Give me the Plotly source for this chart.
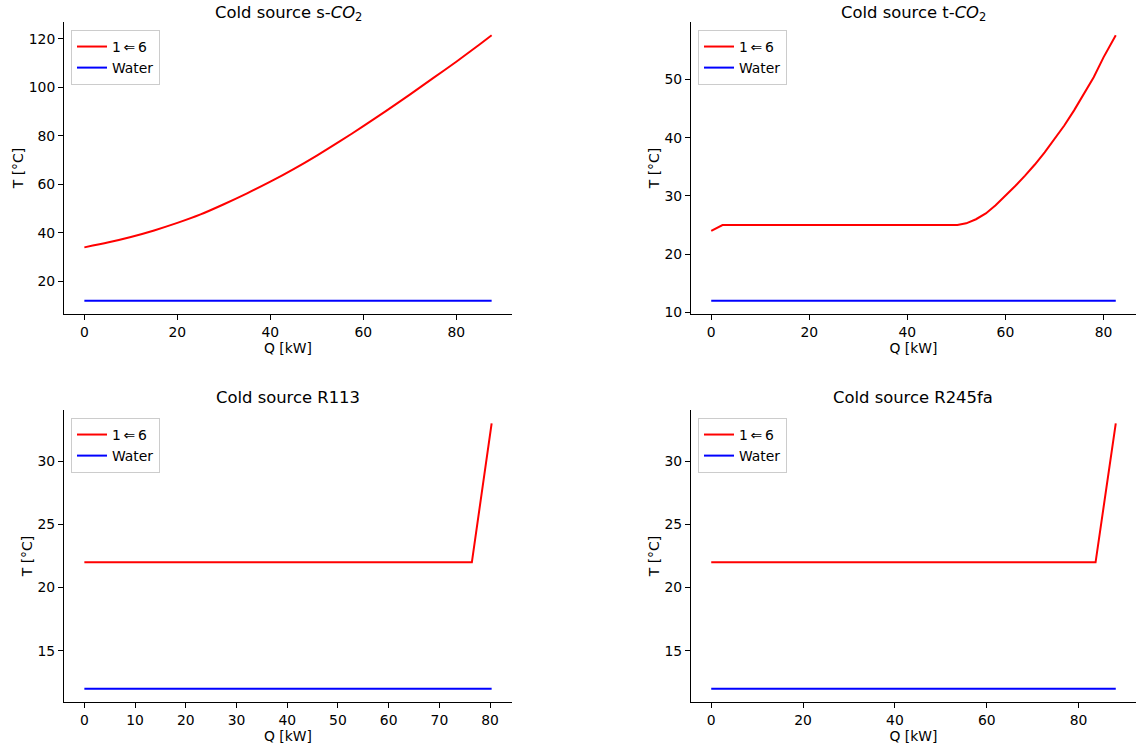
import plotly.graph_objects as go

# ---- data -------------------------------------------------------------
# s-CO2 cold source
q_sco2 = [0, 5, 10, 15, 20, 25, 30, 35, 40, 45, 50, 55, 60, 65, 70, 75, 80, 85, 87.6]
t_sco2 = [34.0, 36.0, 38.3, 41.0, 44.1, 47.6, 51.8, 56.3, 61.1, 66.3, 71.9, 77.8,
          84.0, 90.4, 97.0, 103.8, 110.6, 117.7, 121.5]
q_sco2_w = [0, 87.6]
t_sco2_w = [12, 12]

# t-CO2 cold source
q_tco2 = [0, 2.3, 50.2, 52, 54, 56, 58, 60, 62, 64, 66, 68, 70, 72, 74, 76, 78, 80, 82.5]
t_tco2 = [24.0, 25.0, 25.0, 25.3, 26.0, 27.0, 28.4, 30.0, 31.7, 33.5, 35.4, 37.5,
          39.7, 42.1, 44.7, 47.5, 50.4, 53.8, 57.6]
q_tco2_w = [0, 82.5]
t_tco2_w = [12, 12]

# R113 cold source
q_r113 = [0, 76.4, 80.3]
t_r113 = [22, 22, 33]
q_r113_w = [0, 80.3]
t_r113_w = [12, 12]

# R245fa cold source
q_r245 = [0, 83.7, 88.1]
t_r245 = [22, 22, 33]
q_r245_w = [0, 88.1]
t_r245_w = [12, 12]

titles = ["Cold source s-<i>CO</i><sub>2</sub>", "Cold source t-<i>CO</i><sub>2</sub>",
          "Cold source R113", "Cold source R245fa"]
name_hot = "1\u2009⇐\u20096"
name_water = "Water"

# ---- layout geometry (pixels) ----------------------------------------
W, H = 1137, 749
FONT = "DejaVu Sans"
panels = [
    # (x0, x1, ytop, ybottom) in pixels
    (64, 512, 22, 314),
    (691, 1136, 22, 314),
    (64, 512, 410, 702),
    (691, 1136, 410, 702),
]
series = [
    (q_sco2, t_sco2, q_sco2_w, t_sco2_w, 20, 20, "spline"),
    (q_tco2, t_tco2, q_tco2_w, t_tco2_w, 20, 10, "linear"),
    (q_r113, t_r113, q_r113_w, t_r113_w, 10, 5, "linear"),
    (q_r245, t_r245, q_r245_w, t_r245_w, 20, 5, "linear"),
]
title_shift = [-4, -4, 1, 1]


def padded(lo, hi, frac=0.05):
    span = hi - lo
    return [lo - frac * span, hi + frac * span]


fig = go.Figure()
layout = dict(
    width=W, height=H,
    margin=dict(l=0, r=0, t=0, b=0),
    paper_bgcolor="white", plot_bgcolor="white",
    font=dict(family=FONT, size=13.9, color="black"),
    showlegend=True,
)
annotations = []

for i, ((x0, x1, yt, yb), (qh, th, qw, tw, dx, dy, shape)) in enumerate(zip(panels, series)):
    k = "" if i == 0 else str(i + 1)
    leg = "legend" if i == 0 else f"legend{i + 1}"
    fig.add_trace(go.Scatter(x=qh, y=th, mode="lines", name=name_hot,
                             line=dict(color="red", width=2, shape=shape, smoothing=0.6),
                             xaxis="x" + k, yaxis="y" + k, legend=leg))
    fig.add_trace(go.Scatter(x=qw, y=tw, mode="lines", name=name_water,
                             line=dict(color="blue", width=2),
                             xaxis="x" + k, yaxis="y" + k, legend=leg))

    xs = qh + qw
    ys = th + tw
    axis_common = dict(
        showgrid=False, zeroline=False, showline=True, linecolor="black",
        linewidth=1, mirror=False, ticks="outside", ticklen=5, tickwidth=1,
        tickcolor="black", automargin=False,
        tickfont=dict(family=FONT, size=13.9, color="black"),
    )
    layout["xaxis" + k] = dict(
        axis_common,
        domain=[x0 / W, x1 / W],
        range=padded(min(xs), max(xs)),
        dtick=dx, tick0=0,
        anchor="y" + k,
        title=dict(text="Q [kW]", standoff=3, font=dict(size=13.9)),
    )
    layout["yaxis" + k] = dict(
        axis_common,
        domain=[1 - yb / H, 1 - yt / H],
        range=padded(min(ys), max(ys)),
        dtick=dy, tick0=0,
        anchor="x" + k,
        title=dict(text="T [°C]", standoff=1, font=dict(size=13.9)),
    )
    layout[leg] = dict(
        x=(x0 + 7) / W, y=1 - (yt + 8) / H, xanchor="left", yanchor="top",
        bgcolor="rgba(255,255,255,0.8)", bordercolor="#cccccc", borderwidth=1,
        font=dict(family=FONT, size=13.9, color="black"),
        tracegroupgap=0, itemwidth=30,
    )
    annotations.append(dict(
        text=titles[i], x=(x0 + x1) / 2 / W, y=1 - yt / H,
        xref="paper", yref="paper", xanchor="center", yanchor="bottom",
        yshift=title_shift[i], showarrow=False,
        font=dict(family=FONT, size=16.4, color="black"),
    ))

layout["annotations"] = annotations
fig.update_layout(**layout)
fig.write_html("out.html")
